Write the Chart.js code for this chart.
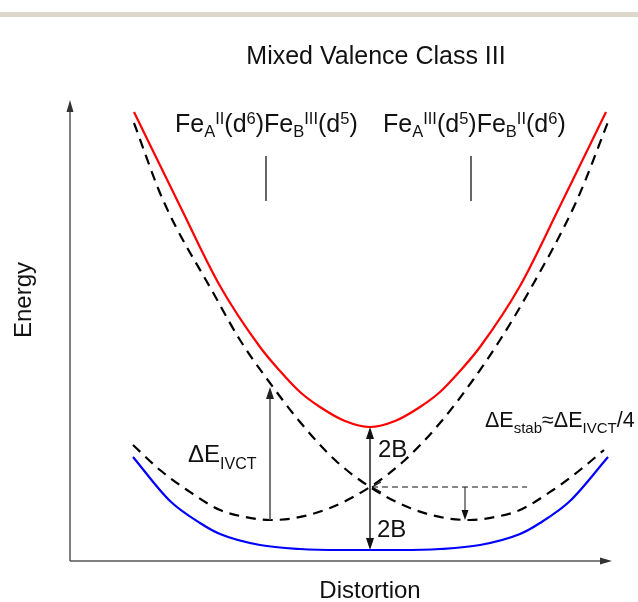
<!DOCTYPE html>
<html>
<head>
<meta charset="utf-8">
<script src="https://cdn.jsdelivr.net/npm/chart.js@4.4.1/dist/chart.umd.min.js"></script>
<style>
    html, body { margin: 0; padding: 0; background: #fff; }
    #wrap { width: 638px; height: 602px; }
</style>
</head>
<body>
<div id="wrap"><canvas id="chart" width="638" height="602"></canvas></div>
<script>
// Distortion (x) / energy (y) in arbitrary units
const redX = [64, 110, 150, 190, 210, 230, 250, 275, 300, 325, 350, 370, 390, 410, 450, 490, 536];
const redY = [449, 355, 275, 214, 190, 169, 154, 140, 134, 140, 154, 169, 190, 214, 275, 355, 449];

const blueX = [63, 100, 130, 150, 190, 230, 270, 300, 330, 370, 410, 450, 470, 500, 538];
const blueY = [104, 60, 38, 27, 16, 12, 11, 11, 11, 12, 16, 27, 38, 60, 104];

// diabatic states (dashed)
const diaAX = [63, 90, 117, 150, 175, 200, 225, 260, 300, 335, 370, 403, 430, 457, 507, 538];
const diaAY = [116, 91, 71, 51, 44, 41, 43, 53, 74, 101, 138, 181, 221, 266, 361, 439];

const diaBX = [64, 93, 145, 170, 200, 230, 265, 300, 340, 375, 400, 425, 450, 483, 510, 534];
const diaBY = [438, 361, 265, 221, 178, 139, 101, 74, 53, 43, 41, 44, 51, 71, 91, 111];

// label ticks under the state labels
const tickX = [196, 401];
const tickY = [360, 405];

// annotation values
const ivctX = 200, ivctTop = 174;
const crossX = 300, crossY = 74;
const stabX = 395, stabEnd = 457;

const FONT = '"Liberation Sans", Arial, Helvetica, sans-serif';

function line(ctx, x1, y1, x2, y2) {
    ctx.beginPath();
    ctx.moveTo(x1, y1);
    ctx.lineTo(x2, y2);
    ctx.stroke();
}

// filled arrow head, tip at (x, y), pointing along (dx, dy)
function head(ctx, x, y, dx, dy, len, w) {
    ctx.beginPath();
    ctx.moveTo(x, y);
    ctx.lineTo(x - dx * len - dy * w, y - dy * len + dx * w);
    ctx.lineTo(x - dx * len + dy * w, y - dy * len - dx * w);
    ctx.closePath();
    ctx.fill();
}

// text with sub/superscripts: parts = [[text, 'sub'|'sup'|undefined], ...]
function rich(ctx, x, y, parts, size, small, subDy, supDy) {
    let cx = x;
    for (const [t, k] of parts) {
        ctx.font = (k ? small : size) + 'px ' + FONT;
        const dy = k === 'sub' ? subDy : k === 'sup' ? supDy : 0;
        ctx.fillText(t, cx, y + dy);
        cx += ctx.measureText(t).width;
    }
}

const diagram = {
    id: 'diagram',
    beforeDraw(chart) {
        const ctx = chart.ctx;
        ctx.save();
        ctx.fillStyle = '#dcd8cc';
        ctx.fillRect(0, 12, chart.width, 5);
        ctx.restore();
    },
    beforeDatasetsDraw(chart) {
        const { ctx, chartArea: a } = chart;
        ctx.save();
        ctx.strokeStyle = '#555';
        ctx.fillStyle = '#333';
        ctx.lineWidth = 1.5;
        line(ctx, a.left, a.bottom, a.left, a.top + 8);
        head(ctx, a.left, a.top, 0, -1, 12, 3.5);
        line(ctx, a.left, a.bottom, a.right - 8, a.bottom);
        head(ctx, a.right, a.bottom, 1, 0, 12, 3.5);
        ctx.restore();
    },
    afterDatasetsDraw(chart) {
        const { ctx, scales: { x, y } } = chart;
        const px = v => x.getPixelForValue(v);
        const py = v => y.getPixelForValue(v);
        ctx.save();

        // ticks under the localized-state labels
        ctx.strokeStyle = '#666';
        ctx.lineWidth = 2;
        tickX.forEach(t => line(ctx, px(t), py(tickY[0]), px(t), py(tickY[1])));

        // IVCT arrow
        const aMin = Math.min(...diaAY);
        ctx.strokeStyle = '#555';
        ctx.fillStyle = '#222';
        ctx.lineWidth = 1.6;
        line(ctx, px(ivctX), py(aMin), px(ivctX), py(ivctTop) + 10);
        head(ctx, px(ivctX), py(ivctTop), 0, -1, 12, 4);

        // 2B / 2B double arrow
        const rMin = Math.min(...redY);
        const bMin = Math.min(...blueY);
        ctx.strokeStyle = '#111';
        ctx.fillStyle = '#111';
        ctx.lineWidth = 1.4;
        line(ctx, px(crossX), py(rMin) + 10, px(crossX), py(bMin) - 10);
        head(ctx, px(crossX), py(rMin), 0, -1, 12, 4);
        head(ctx, px(crossX), py(bMin), 0, 1, 12, 4);

        // stabilisation: dashed level and small arrow
        ctx.lineWidth = 1;
        ctx.setLineDash([6, 4]);
        line(ctx, px(crossX) + 2, py(crossY), px(stabEnd), py(crossY));
        ctx.setLineDash([]);
        ctx.lineWidth = 1.2;
        line(ctx, px(crossX) + 11, py(crossY) - 5, px(crossX) + 2, py(crossY));
        line(ctx, px(crossX) + 11, py(crossY) + 5, px(crossX) + 2, py(crossY));
        ctx.lineWidth = 1;
        line(ctx, px(stabX), py(crossY), px(stabX), py(aMin) - 9);
        head(ctx, px(stabX), py(aMin), 0, 1, 10, 3.5);

        // texts
        ctx.fillStyle = '#111';
        ctx.textBaseline = 'alphabetic';
        ctx.textAlign = 'center';
        ctx.font = '25px ' + FONT;
        ctx.fillText('Mixed Valence Class III', 376, 64);
        ctx.font = '24px ' + FONT;
        ctx.fillText('Distortion', 370, 598);
        ctx.save();
        ctx.translate(31, 300);
        ctx.rotate(-Math.PI / 2);
        ctx.fillText('Energy', 0, 0);
        ctx.restore();

        ctx.textAlign = 'left';
        rich(ctx, 175, 132, [['Fe'], ['A', 'sub'], ['II', 'sup'], ['(d'], ['6', 'sup'], [')Fe'],
            ['B', 'sub'], ['III', 'sup'], ['(d'], ['5', 'sup'], [')']], 25, 16.5, 5, -8);
        rich(ctx, 383, 132, [['Fe'], ['A', 'sub'], ['III', 'sup'], ['(d'], ['5', 'sup'], [')Fe'],
            ['B', 'sub'], ['II', 'sup'], ['(d'], ['6', 'sup'], [')']], 25, 16.5, 5, -8);

        rich(ctx, 188, 462, [['\u0394E'], ['IVCT', 'sub']], 24, 16, 7, 0);
        ctx.font = '24px ' + FONT;
        ctx.fillText('2B', px(crossX) + 8, 457);
        ctx.fillText('2B', px(crossX) + 7, 537);
        rich(ctx, 485, 427, [['\u0394E'], ['stab', 'sub'], ['\u2248\u0394E'], ['IVCT', 'sub'], ['/4']], 21.5, 15, 6, 0);

        ctx.restore();
    }
};

const curve = (xs, ys, color, dashed) => ({
    data: xs.map((v, i) => ({ x: v, y: ys[i] })),
    showLine: true,
    borderColor: color,
    borderWidth: 2.2,
    borderDash: dashed ? [10, 7] : [],
    pointRadius: 0,
    cubicInterpolationMode: 'monotone',
    fill: false,
    clip: false
});

new Chart(document.getElementById('chart'), {
    type: 'scatter',
    data: {
        datasets: [
            curve(diaAX, diaAY, '#000', true),
            curve(diaBX, diaBY, '#000', true),
            curve(blueX, blueY, '#0000ff', false),
            curve(redX, redY, '#ff0000', false)
        ]
    },
    options: {
        responsive: false,
        animation: false,
        devicePixelRatio: 1,
        layout: { padding: { left: 70, right: 26, top: 100, bottom: 41 } },
        plugins: {
            legend: { display: false },
            tooltip: { enabled: false }
        },
        scales: {
            x: { type: 'linear', display: false, min: 0, max: 542 },
            y: { type: 'linear', display: false, min: 0, max: 461 }
        }
    },
    plugins: [diagram]
});
</script>
</body>
</html>
